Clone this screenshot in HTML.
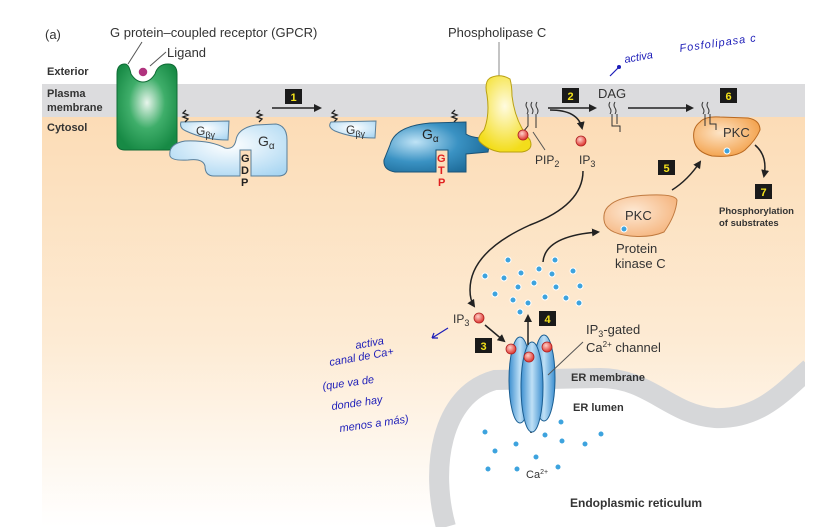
<!DOCTYPE html>
<html><head><meta charset="utf-8"><style>
html,body{margin:0;padding:0;background:#fff;}
svg{display:block;font-family:"Liberation Sans",sans-serif;}
</style></head><body>
<svg width="837" height="527" viewBox="0 0 837 527" xmlns="http://www.w3.org/2000/svg">
<defs>
<clipPath id="pc"><rect x="42" y="84" width="763" height="443"/></clipPath>
<linearGradient id="cyt" x1="0" y1="0" x2="0" y2="1">
<stop offset="0" stop-color="#fcdcb6"/><stop offset="0.55" stop-color="#fdebd4"/><stop offset="1" stop-color="#ffffff"/>
</linearGradient>
<radialGradient id="grn" cx="0.5" cy="0.45" r="0.6"><stop offset="0" stop-color="#e8f5ec"/><stop offset="0.5" stop-color="#3fae6a"/><stop offset="1" stop-color="#178a45"/></radialGradient>
<radialGradient id="lb" cx="0.5" cy="0.4" r="0.7"><stop offset="0" stop-color="#ffffff"/><stop offset="1" stop-color="#a9d6f2"/></radialGradient>
<radialGradient id="db" cx="0.3" cy="0.4" r="0.8"><stop offset="0" stop-color="#bfe3f6"/><stop offset="0.5" stop-color="#3a92c3"/><stop offset="1" stop-color="#17628f"/></radialGradient>
<radialGradient id="yl" cx="0.5" cy="0.4" r="0.6"><stop offset="0" stop-color="#fffbe0"/><stop offset="1" stop-color="#f3dd1b"/></radialGradient>
<radialGradient id="or" cx="0.4" cy="0.4" r="0.7"><stop offset="0" stop-color="#fde4c6"/><stop offset="1" stop-color="#f29a3e"/></radialGradient>
<radialGradient id="or2" cx="0.4" cy="0.4" r="0.7"><stop offset="0" stop-color="#fde9d4"/><stop offset="1" stop-color="#f5b27a"/></radialGradient>
<radialGradient id="rb" cx="0.4" cy="0.35" r="0.6"><stop offset="0" stop-color="#ffd0c8"/><stop offset="1" stop-color="#e0403a"/></radialGradient>
<linearGradient id="ch" x1="0" y1="0" x2="1" y2="0"><stop offset="0" stop-color="#3c8fd0"/><stop offset="0.5" stop-color="#bfe0f6"/><stop offset="1" stop-color="#3c8fd0"/></linearGradient>
<marker id="ah" markerWidth="8" markerHeight="8" refX="6" refY="4" orient="auto" markerUnits="userSpaceOnUse"><path d="M0,0 L8,4 L0,8 Z" fill="#222"/></marker>
</defs>
<rect x="42" y="116" width="763" height="411" fill="url(#cyt)"/>
<rect x="42" y="84" width="763" height="33" fill="#dcdcde"/>
<g clip-path="url(#pc)">
<path d="M446,527 C430,470 440,395 495,380 L600,378 C650,378 670,415 715,418 C760,420 785,390 810,368 L810,527 Z" fill="#fff"/>
<path d="M446,527 C430,470 440,395 495,380 L600,378 C650,378 670,415 715,418 C760,420 785,390 810,368" fill="none" stroke="#d6d7d9" stroke-width="20"/>
</g>
<text x="45" y="39" font-size="13" fill="#333">(a)</text>
<text x="110" y="37" font-size="13" fill="#333">G protein–coupled receptor (GPCR)</text>
<text x="167" y="57" font-size="13" fill="#333">Ligand</text>
<line x1="142" y1="42" x2="128" y2="64" stroke="#555"/>
<line x1="166" y1="52" x2="150" y2="66" stroke="#555"/>
<text x="47" y="75" font-size="11" font-weight="bold" fill="#333">Exterior</text>
<text x="47" y="97" font-size="11" font-weight="bold" fill="#333">Plasma</text>
<text x="47" y="111" font-size="11" font-weight="bold" fill="#333">membrane</text>
<text x="47" y="131" font-size="11" font-weight="bold" fill="#333">Cytosol</text>
<path d="M125,64 Q117,64 117,74 L117,143 Q117,150 125,150 L168,150 Q177,150 177,142 L177,74 Q177,64 168,64 Q158,64 155,74 Q150,82 143,82 Q136,82 131,74 Q129,64 125,64Z" fill="url(#grn)" stroke="#0f6b35"/>
<circle cx="143" cy="72" r="5" fill="#b0337e" stroke="#fff" stroke-width="1.5"/>
<path d="M170,156 Q168,144 185,141 Q210,140 225,148 Q234,150 236,140 Q238,128 256,125 L276,124 Q287,126 287,140 L287,170 Q286,176 278,176 L251,176 L251,150 L240,150 L240,176 L214,176 Q205,176 205,166 Q203,158 188,160 Q172,161 170,156Z" fill="url(#lb)" stroke="#5a7f9a"/>
<path d="M181,122 L229,121 L228,140 Q205,140 186,131 Q179,128 181,122Z" fill="url(#lb)" stroke="#5a7f9a"/>
<text x="196" y="135" font-size="12" fill="#333">G<tspan font-size="9" dy="3">βγ</tspan></text>
<text x="258" y="146" font-size="14" fill="#333">G<tspan font-size="10" dy="3">α</tspan></text>
<text x="241" y="162" font-size="11" font-weight="bold" fill="#222">G</text>
<text x="241" y="174" font-size="11" font-weight="bold" fill="#222">D</text>
<text x="241" y="186" font-size="11" font-weight="bold" fill="#222">P</text>
<path d="M186,110 l-3,3 l5,2 l-5,2 l5,2 l-3,3 M260,110 l-3,3 l5,2 l-5,2 l5,2 l-3,3 M335,110 l-3,3 l5,2 l-5,2 l5,2 l-3,3 M455,110 l-3,3 l5,2 l-5,2 l5,2 l-3,3" fill="none" stroke="#222" stroke-width="1.3"/>
<rect x="285" y="89" width="17" height="15" fill="#1a1a1a"/><text x="293.5" y="101" font-size="11" font-weight="bold" fill="#f3e21b" text-anchor="middle">1</text>
<line x1="272" y1="108" x2="320" y2="108" stroke="#222" stroke-width="1.5" marker-end="url(#ah)"/>
<path d="M331,122 L376,121 L375,138 Q352,138 335,131 Q327,127 331,122Z" fill="url(#lb)" stroke="#5a7f9a"/>
<text x="346" y="134" font-size="12" fill="#333">G<tspan font-size="9" dy="3">βγ</tspan></text>
<path d="M390,145 Q395,126 430,123 L466,122 L466,134 Q470,137 480,138 L490,140 L488,152 L466,154 L466,172 L448,172 L448,150 L436,150 L436,172 L395,172 Q383,170 384,160 Z" fill="url(#db)" stroke="#1b5478"/>
<text x="422" y="139" font-size="14" fill="#222">G<tspan font-size="10" dy="3">α</tspan></text>
<text x="437" y="162" font-size="11" font-weight="bold" fill="#e02020">G</text>
<text x="438" y="174" font-size="11" font-weight="bold" fill="#e02020">T</text>
<text x="438" y="186" font-size="11" font-weight="bold" fill="#e02020">P</text>
<text x="448" y="37" font-size="13" fill="#333">Phospholipase C</text>
<line x1="499" y1="42" x2="499" y2="78" stroke="#888"/>
<path d="M490,78 Q500,73 510,79 Q512,86 512,96 Q515,122 530,140 Q534,150 522,152 L500,152 Q488,150 480,142 Q476,138 484,130 Q490,115 487,95 Q484,82 490,78Z" fill="url(#yl)" stroke="#b9a010"/>
<path d="M527,102 q-2,3 0,6 q2,3 0,6 M532,102 q-2,3 0,6 q2,3 0,6 M537,102 q-2,3 0,6 q2,3 0,6 M528,114 L528,126 L523,132 M536,114 L536,128" fill="none" stroke="#333" stroke-width="1"/>
<circle cx="523" cy="135" r="5" fill="url(#rb)" stroke="#b02020" stroke-width="0.8"/>
<line x1="533" y1="132" x2="545" y2="150" stroke="#555"/>
<text x="535" y="164" font-size="12" fill="#333">PIP<tspan font-size="9" dy="3">2</tspan></text>
<rect x="562" y="88" width="17" height="15" fill="#1a1a1a"/><text x="570.5" y="100" font-size="11" font-weight="bold" fill="#f3e21b" text-anchor="middle">2</text>
<line x1="548" y1="108" x2="595" y2="108" stroke="#222" stroke-width="1.5" marker-end="url(#ah)"/>
<path d="M550,110 Q578,110 582,128" fill="none" stroke="#222" stroke-width="1.5" marker-end="url(#ah)"/>
<circle cx="581" cy="141" r="5" fill="url(#rb)" stroke="#b02020" stroke-width="0.8"/>
<text x="579" y="164" font-size="12" fill="#333">IP<tspan font-size="9" dy="3">3</tspan></text>
<text x="598" y="98" font-size="13" fill="#333">DAG</text>
<path d="M610,102 q-2,3 0,6 q2,3 0,6 M615,102 q-2,3 0,6 q2,3 0,6 M612,114 L612,126 L620,126 L620,132 M617,114 L617,124" fill="none" stroke="#333" stroke-width="1"/>
<line x1="628" y1="108" x2="692" y2="108" stroke="#222" stroke-width="1.5" marker-end="url(#ah)"/>
<rect x="720" y="88" width="17" height="15" fill="#1a1a1a"/><text x="728.5" y="100" font-size="11" font-weight="bold" fill="#f3e21b" text-anchor="middle">6</text>
<path d="M700,122 Q705,116 720,117 L748,118 Q760,120 760,130 Q756,140 745,150 Q735,158 712,156 Q696,152 694,140 Q692,128 700,122Z" fill="url(#or)" stroke="#b86820"/>
<path d="M703,102 q-2,3 0,6 q2,3 0,6 M708,102 q-2,3 0,6 q2,3 0,6 M705,114 L705,126 M710,114 L710,124 L716,124 L716,130" fill="none" stroke="#333" stroke-width="1"/>
<text x="723" y="137" font-size="13" fill="#333">PKC</text>
<circle cx="727" cy="151" r="3" fill="#3da3de" stroke="#fff" stroke-width="1"/>
<path d="M755,145 Q768,156 764,176" fill="none" stroke="#222" stroke-width="1.5" marker-end="url(#ah)"/>
<rect x="755" y="184" width="17" height="15" fill="#1a1a1a"/><text x="763.5" y="196" font-size="11" font-weight="bold" fill="#f3e21b" text-anchor="middle">7</text>
<text x="719" y="214" font-size="9.5" font-weight="bold" fill="#333">Phosphorylation</text>
<text x="719" y="226" font-size="9.5" font-weight="bold" fill="#333">of substrates</text>
<rect x="658" y="160" width="17" height="15" fill="#1a1a1a"/><text x="666.5" y="172" font-size="11" font-weight="bold" fill="#f3e21b" text-anchor="middle">5</text>
<path d="M672,190 Q688,180 700,162" fill="none" stroke="#222" stroke-width="1.5" marker-end="url(#ah)"/>
<path d="M610,205 Q620,196 650,195 Q675,194 677,200 Q676,215 664,232 Q650,238 630,236 Q605,233 604,220 Q603,210 610,205Z" fill="url(#or2)" stroke="#c07a40"/>
<text x="625" y="220" font-size="13" fill="#333">PKC</text>
<circle cx="624" cy="229" r="3" fill="#3da3de" stroke="#fff" stroke-width="1"/>
<text x="616" y="253" font-size="13" fill="#333">Protein</text>
<text x="615" y="268" font-size="13" fill="#333">kinase C</text>
<path d="M543,262 Q545,236 598,232" fill="none" stroke="#222" stroke-width="1.5" marker-end="url(#ah)"/>
<path d="M583,171 Q583,205 530,225 Q470,252 470,290 Q470,300 474,306" fill="none" stroke="#222" stroke-width="1.5" marker-end="url(#ah)"/>
<text x="453" y="323" font-size="12" fill="#333">IP<tspan font-size="9" dy="3">3</tspan></text>
<circle cx="479" cy="318" r="5" fill="url(#rb)" stroke="#b02020" stroke-width="0.8"/>
<rect x="475" y="338" width="17" height="15" fill="#1a1a1a"/><text x="483.5" y="350" font-size="11" font-weight="bold" fill="#f3e21b" text-anchor="middle">3</text>
<line x1="485" y1="325" x2="504" y2="341" stroke="#222" stroke-width="1.5" marker-end="url(#ah)"/>
<rect x="539" y="311" width="17" height="15" fill="#1a1a1a"/><text x="547.5" y="323" font-size="11" font-weight="bold" fill="#f3e21b" text-anchor="middle">4</text>
<line x1="531" y1="433" x2="531" y2="418" stroke="#222" stroke-width="1.5"/>
<ellipse cx="520" cy="380" rx="11" ry="43" fill="url(#ch)" stroke="#1b5e92"/>
<ellipse cx="544" cy="378" rx="11" ry="43" fill="url(#ch)" stroke="#1b5e92"/>
<ellipse cx="532" cy="387" rx="11" ry="45" fill="url(#ch)" stroke="#1b5e92"/>
<line x1="528" y1="345" x2="528" y2="316" stroke="#222" stroke-width="1.5" marker-end="url(#ah)"/>
<circle cx="511" cy="349" r="5" fill="url(#rb)" stroke="#b02020" stroke-width="0.8"/>
<circle cx="547" cy="347" r="5" fill="url(#rb)" stroke="#b02020" stroke-width="0.8"/>
<circle cx="529" cy="357" r="5" fill="url(#rb)" stroke="#b02020" stroke-width="0.8"/>
<line x1="548" y1="375" x2="583" y2="342" stroke="#555"/>
<text x="586" y="334" font-size="13" fill="#333">IP<tspan font-size="9" dy="3">3</tspan><tspan dy="-3">-gated</tspan></text>
<text x="586" y="352" font-size="13" fill="#333">Ca<tspan font-size="8" dy="-5">2+</tspan><tspan dy="5"> channel</tspan></text>
<text x="571" y="381" font-size="11" font-weight="bold" fill="#333">ER membrane</text>
<text x="573" y="411" font-size="11" font-weight="bold" fill="#333">ER lumen</text>
<text x="570" y="507" font-size="12" font-weight="bold" fill="#333">Endoplasmic reticulum</text>
<text x="526" y="478" font-size="11" fill="#333">Ca<tspan font-size="7" dy="-4">2+</tspan></text>
<g fill="#3da3de" stroke="#fff" stroke-width="1">
<circle cx="508" cy="260" r="3"/><circle cx="555" cy="260" r="3"/><circle cx="485" cy="276" r="3"/><circle cx="504" cy="278" r="3"/><circle cx="521" cy="273" r="3"/><circle cx="539" cy="269" r="3"/><circle cx="552" cy="274" r="3"/><circle cx="573" cy="271" r="3"/><circle cx="495" cy="294" r="3"/><circle cx="518" cy="287" r="3"/><circle cx="534" cy="283" r="3"/><circle cx="556" cy="287" r="3"/><circle cx="580" cy="286" r="3"/><circle cx="513" cy="300" r="3"/><circle cx="528" cy="303" r="3"/><circle cx="545" cy="297" r="3"/><circle cx="566" cy="298" r="3"/><circle cx="579" cy="303" r="3"/><circle cx="520" cy="312" r="3"/>
<circle cx="561" cy="422" r="3"/><circle cx="485" cy="432" r="3"/><circle cx="545" cy="435" r="3"/><circle cx="601" cy="434" r="3"/><circle cx="516" cy="444" r="3"/><circle cx="562" cy="441" r="3"/><circle cx="585" cy="444" r="3"/><circle cx="495" cy="451" r="3"/><circle cx="536" cy="457" r="3"/><circle cx="488" cy="469" r="3"/><circle cx="517" cy="469" r="3"/><circle cx="558" cy="467" r="3"/>
</g>
<path d="M610,76 L618,68" fill="none" stroke="#1d1db8" stroke-width="1.2"/>
<circle cx="619" cy="67" r="2" fill="#1d1db8"/>
<text x="625" y="63" font-size="11" fill="#1d1db8" transform="rotate(-10 625 63)" font-style="italic">activa</text>
<text x="680" y="52" font-size="11" fill="#1d1db8" transform="rotate(-8 680 52)" font-style="italic" letter-spacing="1">Fosfolipasa c</text>
<path d="M448,328 L432,338 M432,338 l6,0 M432,338 l2,-5" stroke="#1d1db8" stroke-width="1.2" fill="none"/>
<text x="356" y="349" font-size="11" fill="#1d1db8" font-style="italic" transform="rotate(-10 356 349)">activa</text>
<text x="330" y="366" font-size="11" fill="#1d1db8" font-style="italic" transform="rotate(-10 330 366)">canal de Ca+</text>
<text x="323" y="390" font-size="11" fill="#1d1db8" font-style="italic" transform="rotate(-8 323 390)">(que va de</text>
<text x="332" y="410" font-size="11" fill="#1d1db8" font-style="italic" transform="rotate(-8 332 410)">donde  hay</text>
<text x="340" y="432" font-size="11" fill="#1d1db8" font-style="italic" transform="rotate(-8 340 432)">menos a más)</text>
</svg>
</body></html>
